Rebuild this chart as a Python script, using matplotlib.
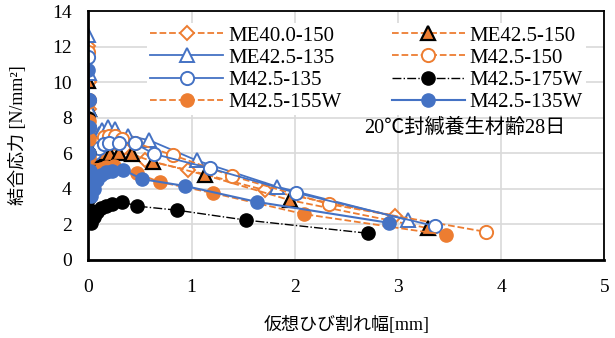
import matplotlib
matplotlib.use('Agg')
import matplotlib.pyplot as plt

plt.rcParams['font.family'] = ['Liberation Serif', 'Noto Sans CJK JP']
plt.rcParams['axes.unicode_minus'] = False

# series data: crack width [mm], bond stress [N/mm2]
me40_150_x = [0, 0.005, 0.01, 0.02, 0.04, 0.08, 0.12, 0.18, 0.25, 0.35, 0.55, 0.97, 1.71, 2.97]
me40_150_y = [12.05, 10.0, 8.5, 7.0, 6.2, 6.5, 6.7, 6.8, 6.6, 6.3, 5.6, 5.06, 3.93, 2.49]

me425_150_x = [0, 0.005, 0.01, 0.02, 0.04, 0.07, 0.1, 0.15, 0.21, 0.3, 0.42, 0.63, 1.13, 1.95, 3.29]
me425_150_y = [10.1, 8.5, 7.0, 6.0, 5.5, 5.7, 5.9, 6.0, 5.95, 6.0, 5.95, 5.53, 4.78, 3.37, 1.79]

me425_135_x = [0, 0.005, 0.01, 0.02, 0.05, 0.1, 0.13, 0.19, 0.26, 0.29, 0.38, 0.59, 1.05, 1.83, 3.1]
me425_135_y = [12.66, 10.5, 8.5, 7.0, 6.8, 7.1, 7.3, 7.5, 7.4, 7.0, 7.0, 6.74, 5.6, 4.12, 2.24]

m425_150_x = [0, 0.005, 0.01, 0.02, 0.05, 0.1, 0.15, 0.2, 0.26, 0.33, 0.45, 0.82, 1.39, 2.33, 3.85]
m425_150_y = [11.7, 9.0, 7.5, 6.5, 6.3, 6.6, 6.9, 7.0, 6.95, 6.8, 6.6, 5.9, 4.73, 3.14, 1.58]

m425_135_x = [0, 0.005, 0.01, 0.02, 0.05, 0.1, 0.15, 0.2, 0.3, 0.45, 0.64, 1.18, 2.01, 3.36]
m425_135_y = [11.4, 9.0, 7.5, 6.3, 6.0, 6.3, 6.5, 6.6, 6.6, 6.56, 5.96, 5.16, 3.78, 1.9]

m425_175w_x = [0, 0.003, 0.006, 0.01, 0.015, 0.02, 0.03, 0.05, 0.08, 0.12, 0.17, 0.23, 0.33, 0.47, 0.86, 1.53, 2.71]
m425_175w_y = [8.0, 6.0, 4.5, 3.5, 2.8, 2.3, 2.1, 2.4, 2.7, 2.9, 3.05, 3.15, 3.27, 3.03, 2.8, 2.24, 1.5]

m425_155w_x = [0, 0.003, 0.006, 0.01, 0.015, 0.02, 0.03, 0.05, 0.08, 0.12, 0.17, 0.25, 0.47, 0.69, 1.21, 2.09, 3.47]
m425_155w_y = [8.9, 7.8, 6.8, 5.8, 5.0, 4.3, 3.9, 4.3, 4.8, 5.1, 5.25, 5.3, 4.88, 4.39, 3.76, 2.58, 1.4]

m425_135w_x = [0, 0.003, 0.006, 0.01, 0.015, 0.02, 0.03, 0.05, 0.08, 0.12, 0.17, 0.23, 0.34, 0.52, 0.94, 1.63, 2.91]
m425_135w_y = [10.7, 9.0, 7.5, 6.0, 5.0, 4.2, 3.6, 4.0, 4.5, 4.8, 4.95, 5.0, 5.07, 4.55, 4.16, 3.27, 2.09]

orange = '#ED7D31'
blue = '#4472C4'

fig = plt.figure(figsize=(6.15, 3.38), dpi=100)
ax = fig.add_axes([0.1437, 0.231, 0.839, 0.7356])

ms = 9.5
ax.plot(me40_150_x, me40_150_y, ls='--', color=orange, lw=1.3, marker='D', ms=7.5, mfc='white', mec=orange, mew=1.4, label='ME40.0-150')
ax.plot(me425_150_x, me425_150_y, ls='--', color=orange, lw=1.3, marker='^', ms=ms, mfc=orange, mec='black', mew=1.6, label='ME42.5-150')
ax.plot(me425_135_x, me425_135_y, ls='-', color=blue, lw=1.3, marker='^', ms=ms + 1, mfc='white', mec=blue, mew=1.4, label='ME42.5-135')
ax.plot(m425_150_x, m425_150_y, ls='--', color=orange, lw=1.3, marker='o', ms=ms, mfc='white', mec=orange, mew=1.4, label='M42.5-150')
ax.plot(m425_135_x, m425_135_y, ls='-', color=blue, lw=1.3, marker='o', ms=ms, mfc='white', mec=blue, mew=1.4, label='M42.5-135')
ax.plot(m425_175w_x, m425_175w_y, ls='-.', color='black', lw=1.0, marker='o', ms=ms, mfc='black', mec='black', label='M42.5-175W')
ax.plot(m425_155w_x, m425_155w_y, ls='--', color=orange, lw=1.3, marker='o', ms=ms, mfc=orange, mec=orange, label='M42.5-155W')
ax.plot(m425_135w_x, m425_135w_y, ls='-', color=blue, lw=1.5, marker='o', ms=ms, mfc=blue, mec=blue, label='M42.5-135W')

ax.set_xlim(0, 5)
ax.set_ylim(0, 14)
ax.set_xticks(range(0, 6))
ax.set_yticks(range(0, 15, 2))
ax.grid(True, color='#d9d9d9', lw=1.2)
ax.set_axisbelow(True)
ax.tick_params(length=0, labelsize=14)
ax.tick_params(axis='x', pad=14)
ax.tick_params(axis='y', pad=12)
for s in ['left', 'bottom']:
    ax.spines[s].set_linewidth(2)
for s in ['top', 'right']:
    ax.spines[s].set_linewidth(1.3)

ax.set_xlabel('仮想ひび割れ幅[mm]', fontsize=13, labelpad=14)
ax.set_ylabel('結合応力 [N/mm²]', fontsize=13, labelpad=18)

# excel-style row-major legend order
h, l = ax.get_legend_handles_labels()
order = [0, 2, 4, 6, 1, 3, 5, 7]
leg = ax.legend([h[i] for i in order], [l[i] for i in order], ncol=2, loc='upper right',
                bbox_to_anchor=(0.985, 0.995), fontsize=15,
                handlelength=3.5, handletextpad=0.25, columnspacing=2.4,
                labelspacing=0.12, borderpad=0.15, frameon=True, fancybox=False)
leg.get_frame().set_edgecolor('none')
leg.get_frame().set_facecolor('white')
leg.get_frame().set_alpha(1)

ax.text(3.65, 7.4, '20℃封緘養生材齢28日', fontsize=14.5, ha='center', va='center')

fig.savefig('out.png', dpi=100)
